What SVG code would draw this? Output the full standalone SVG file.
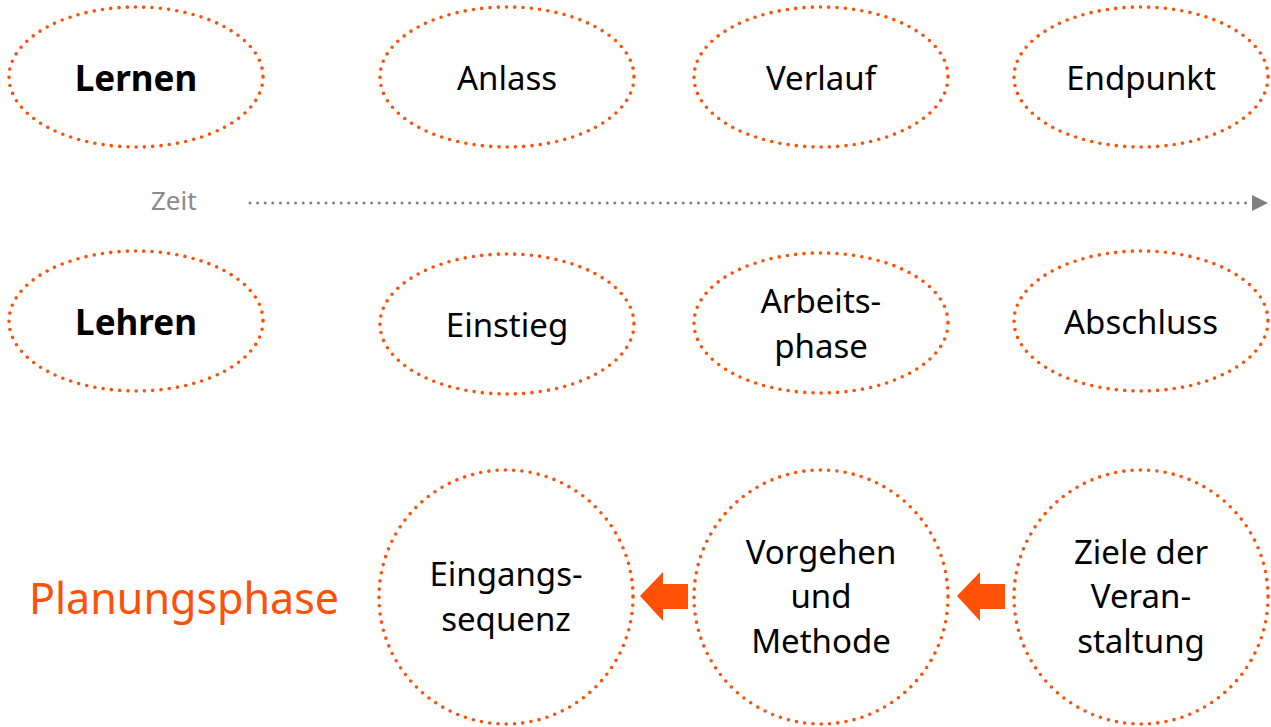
<svg xmlns="http://www.w3.org/2000/svg" width="1271" height="727" viewBox="0 0 1271 727">
  <defs>
    <style>
      .ring { fill: none; stroke: #FF5008; stroke-width: 3.6; stroke-dasharray: 0 8.3; stroke-linecap: round; }
      .lbl { font-family: "Noto Sans", "Open Sans", "DejaVu Sans", sans-serif; font-size: 33px; fill: #000; text-anchor: middle; }
      .bold { font-weight: bold; font-size: 35px; }
      .time { font-family: "Noto Sans", "Open Sans", sans-serif; font-size: 26px; fill: #8a8a8a; }
      .phase { font-family: "Noto Sans", "Open Sans", sans-serif; font-size: 43px; fill: #FF5008; }
      .fat { fill: #FF5008; }
    </style>
  </defs>

  <rect width="1271" height="727" fill="#fff"/>

  <!-- Lernen row -->
  <g id="lernen"><ellipse class="ring" cx="136" cy="77" rx="127" ry="70"/><text class="lbl bold" x="136" y="91">Lernen</text></g>
  <g id="anlass"><ellipse class="ring" cx="507" cy="77" rx="127" ry="70"/><text class="lbl" x="507" y="90">Anlass</text></g>
  <g id="verlauf"><ellipse class="ring" cx="821" cy="77" rx="127" ry="70"/><text class="lbl" x="821" y="90">Verlauf</text></g>
  <g id="endpunkt"><ellipse class="ring" cx="1141" cy="77" rx="127" ry="70"/><text class="lbl" x="1141" y="90">Endpunkt</text></g>

  <!-- time axis -->
  <g id="zeit"><text class="time" x="151" y="210">Zeit</text></g>

  <!-- Lehren row -->
  <g id="lehren"><ellipse class="ring" cx="136" cy="321" rx="127" ry="70"/><text class="lbl bold" x="136" y="335">Lehren</text></g>
  <g id="einstieg"><ellipse class="ring" cx="507" cy="324" rx="127" ry="70"/><text class="lbl" x="507" y="337">Einstieg</text></g>
  <g id="arbeitsphase"><ellipse class="ring" cx="821" cy="323" rx="127" ry="70"/><text class="lbl" x="821" y="313">Arbeits-</text><text class="lbl" x="821" y="358">phase</text></g>
  <g id="abschluss"><ellipse class="ring" cx="1141" cy="321" rx="127" ry="70"/><text class="lbl" x="1141" y="334">Abschluss</text></g>

  <!-- planning row -->
  <g id="planungsphase"><text class="phase" x="29" y="614">Planungsphase</text></g>
  <g id="eingangssequenz"><circle class="ring" cx="506" cy="597" r="127"/><text class="lbl" x="506" y="586">Eingangs-</text><text class="lbl" x="506" y="631">sequenz</text></g>
  <g id="vorgehen"><circle class="ring" cx="821" cy="597" r="127"/><text class="lbl" x="821" y="564">Vorgehen</text><text class="lbl" x="821" y="608">und</text><text class="lbl" x="821" y="653">Methode</text></g>
  <g id="ziele"><circle class="ring" cx="1141" cy="597" r="127"/><text class="lbl" x="1141" y="564">Ziele der</text><text class="lbl" x="1141" y="608">Veran-</text><text class="lbl" x="1141" y="653">staltung</text></g>

  <!-- connectors -->
  <g id="connectors">
    <line x1="250" y1="203" x2="1252" y2="203" stroke="#808080" stroke-width="3" stroke-dasharray="0 7.6" stroke-linecap="round"/>
    <path d="M1252,195 L1268,203 L1252,211 Z" fill="#808080"/>
    <path class="fat" d="M640,596 L663,572 L663,584 L688,584 L688,609 L663,609 L663,621 Z"/>
    <path class="fat" d="M957,596 L980,572 L980,584 L1005,584 L1005,609 L980,609 L980,621 Z"/>
  </g>
</svg>
